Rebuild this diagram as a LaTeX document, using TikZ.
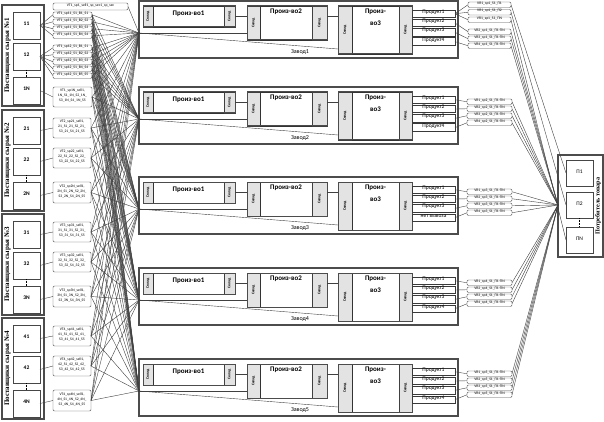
\documentclass[tikz,border=0pt]{standalone}
\usepackage{fontspec}
\setmainfont{Carlito}
\newfontfamily\serifb{Liberation Serif}
\usetikzlibrary{fit}
\newcommand\bx[7]{\node[#6, fit={({#2},{#3})({#4},{#5})}, inner sep=0pt, outer sep=0pt] (#1) {#7};}
\begin{document}
\begin{tikzpicture}[x=1pt,y=-1pt,
  grp/.style={draw=gray!60!black, line width=1.2pt},
  sup/.style={draw=gray!55!black, line width=0.9pt, fill=white, font=\fontsize{5.5}{6}\selectfont\bfseries},
  lbl/.style={draw=gray!65!black, line width=0.45pt, rounded corners=1.2pt, fill=white, font=\fontsize{3.7}{5}\selectfont, align=center},
  zav/.style={draw=gray!60!black, line width=1.2pt},
  frm/.style={draw=gray!60!black, line width=1pt},
  sklad/.style={draw=gray!50!black, line width=0.5pt, fill=gray!22},
  core/.style={draw=black!80, line width=0.8pt, fill=white},
  prod/.style={draw=gray!45!black, line width=0.8pt, fill=white, font=\fontsize{5.5}{6}\selectfont},
  conn/.style={line width=0.4pt, draw=black!75},
  vt/.style={rotate=90, font=\serifb\bfseries\fontsize{7}{8}\selectfont, inner sep=0pt},
  skt/.style={rotate=90, font=\fontsize{3.8}{4}\selectfont\bfseries, inner sep=0pt},
  ptxt/.style={font=\fontsize{7}{12}\selectfont\bfseries, align=center, inner sep=1pt},
]
\fill[white] (0,0) rectangle (604,422);
\useasboundingbox (0,0) rectangle (604,422);

% ---------------- suppliers ----------------
\foreach \k/\g in {1/5,2/110,3/214,4/318}{
  \bx{g\k}{2}{\g}{44}{\g+101}{grp}{}
  \node[vt] (gl\k) at (7.5,\g+50.5) {Поставщики сырья №\k};
  \bx{s\k-1}{13}{\g+7}{40}{\g+34}{sup}{\k1}
  \bx{s\k-2}{13}{\g+38}{40}{\g+65}{sup}{\k2}
  \bx{s\k-n}{13}{\g+72}{40}{\g+99}{sup}{\k N}
  \draw[densely dotted, line width=0.6pt] (s\k-2.south) -- (s\k-n.north);
}
\foreach \k/\g in {2/110,3/214,4/318}{
  \bx{l\k-1}{53}{\g+8}{91}{\g+28}{lbl}{VT\k\_sp\k1\_sell1,\\\k1\_S1\_\k1\_S2\_\k1\_\\S3\_\k1\_S4\_\k1\_S5}
  \bx{l\k-2}{53}{\g+38}{91}{\g+58}{lbl}{VT\k\_sp\k2\_sell1,\\\k2\_S1\_\k2\_S2\_\k2\_\\S3\_\k2\_S4\_\k2\_S5}
  \bx{l\k-3}{53}{\g+72}{91}{\g+93}{lbl}{VT\k\_sp\k N\_sell1,\\\k N\_S1\_\k N\_S2\_\k N\_\\S3\_\k N\_S4\_\k N\_S5}
  \draw[conn] (s\k-1.east) -- (l\k-1.west);
  \draw[conn] (s\k-2.east) -- (l\k-2.west);
  \draw[conn] (s\k-n.east) -- (l\k-3.west);
}
\bx{l1-0}{53}{3}{128}{10}{lbl}{VT1\_sp1\_sell1\_sp\_sec1\_sp\_sec}
\foreach \i/\y in {1/12,2/19,3/26,4/33}{
  \bx{l1-a\i}{53}{\y}{92}{\y+5.5}{lbl}{VT1\_sp11\_S1\_B\i\_S\i}
  \draw[conn] (s1-1.east) -- (l1-a\i.west);
}
\foreach \i/\y in {1/45,2/52,3/59,4/66,5/73}{
  \bx{l1-b\i}{53}{\y}{92}{\y+5.5}{lbl}{VT1\_sp12\_S1\_B\i\_S\i}
  \draw[conn] (s1-2.east) -- (l1-b\i.west);
}
\bx{l1-c}{53}{87}{92}{107}{lbl}{VT1\_sp1N\_sell1,\\1N\_S1\_1N\_S2\_1N\_\\S3\_1N\_S4\_1N\_S5}
\draw[conn] (s1-n.east) -- (l1-c.west);

% ---------------- plants ----------------
\foreach \z/\T in {1/1,2/87,3/177,4/268,5/359}{
  \bx{z\z}{139}{\T}{458}{\T+57}{zav}{}
  \node[font=\fontsize{6}{7}\selectfont, inner sep=0pt] (zl\z) at (300,\T+51) {Завод\z};
  \coordinate (c\z) at (139,\T+32);
  \coordinate (q\z) at (338,\T+48);
  % production 1
  \bx{p\z-1l}{143}{\T+5}{153}{\T+26}{sklad}{}
  \bx{p\z-1c}{153}{\T+5}{224}{\T+26}{core,ptxt}{Произ-во1}
  \bx{p\z-1r}{224}{\T+5}{235}{\T+26}{sklad}{}
  \bx{p\z-1}{143}{\T+5}{235}{\T+26}{frm}{}
  % production 2
  \bx{p\z-2l}{247}{\T+5}{260}{\T+39}{sklad}{}
  \bx{p\z-2c}{260}{\T+5}{312}{\T+39}{core}{}
  \bx{p\z-2r}{312}{\T+5}{327}{\T+39}{sklad}{}
  \bx{p\z-2}{247}{\T+5}{327}{\T+39}{frm}{}
  \node[ptxt, anchor=north] (p\z-2t) at ([yshift=-2pt]p\z-2c.north) {Произ-во2};
  % production 3
  \bx{p\z-3l}{338}{\T+5}{352}{\T+53}{sklad}{}
  \bx{p\z-3c}{352}{\T+5}{399}{\T+53}{core}{}
  \bx{p\z-3r}{399}{\T+5}{412}{\T+53}{sklad}{}
  \bx{p\z-3}{338}{\T+5}{412}{\T+53}{frm}{}
  \node[ptxt, anchor=north] (p\z-3t) at ([yshift=-2pt]p\z-3c.north) {Произ-\\во3};
  \foreach \s in {1l,1r,2l,2r,3l,3r}{
    \node[skt] (p\z-\s t) at (p\z-\s) {Склад};
  }
  % products
  \foreach \i in {1,2,3}{
    \bx{pr\z-\i}{412}{\T+9+9.3*(\i-1)}{455}{\T+16.5+9.3*(\i-1)}{prod}{Продукт\i}
  }
  \bx{pr\z-4}{412}{\T+36.9}{455}{\T+44.4}{prod}{\ifnum\z=3 нет вывоза\else Продукт4\fi}
  % internal links
  \draw[conn] (p\z-1.east) -- (p\z-1.east -| p\z-2.west);
  \draw[conn] (p\z-2.east |- p\z-1.east) -- (p\z-3.west |- p\z-1.east);
  \draw[conn] (c\z) -- (c\z -| p\z-2.west);
  \draw[conn] (c\z) -- (q\z);
}

% ---------------- consumers ----------------
\bx{cg}{558}{155}{603}{257}{grp}{}
\bx{pc1}{566}{160}{593}{186}{sup}{\mdseries П1}
\bx{pc2}{566}{192}{593}{218}{sup}{\mdseries П2}
\bx{pcn}{566}{227}{593}{253}{sup}{\mdseries ПN}
\draw[densely dotted, line width=0.6pt] (pc2.south) -- (pcn.north);
\node[vt, font=\serifb\bfseries\fontsize{6.2}{7}\selectfont] (cgl) at (598,206) {Потребитель товара};
\coordinate (cR) at (558,205);

% right labels plant 1
\foreach \i/\y/\t in {1/2/VR1\_sp1\_S1\_П1,2/9.5/VR1\_sp1\_S1\_П2,3/17/VR1\_sp1\_S1\_ПN,4/29/VR2\_sp1\_S1\_П1-ПN,5/36/VR3\_sp1\_S1\_П1-ПN,6/43/VR4\_sp1\_S1\_П1-ПN}{
  \bx{r1-\i}{468}{\y}{511}{\y+5.5}{lbl}{\t}
}
\draw[conn] (pr1-1.east) -- (r1-1.west);
\draw[conn] (pr1-1.east) -- (r1-2.west);
\draw[conn] (pr1-1.east) -- (r1-3.west);
\draw[conn] (pr1-2.east) -- (r1-4.west);
\draw[conn] (pr1-3.east) -- (r1-5.west);
\draw[conn] (pr1-4.east) -- (r1-6.west);
\draw[conn] (r1-1.east) -- (pc1.west);
\draw[conn] (r1-2.east) -- (pc2.west);
\draw[conn] (r1-3.east) -- (pcn.west);
\foreach \i in {4,5,6}{ \draw[conn] (r1-\i.east) -- (cR); }

% right labels plants 2-5
\foreach \z/\T in {2/87,3/177,4/268,5/359}{
  \foreach \i in {1,...,4}{
    \bx{r\z-\i}{467}{\T+12+7*(\i-1)}{512}{\T+17.5+7*(\i-1)}{lbl}{VR\i\_sp\z\_S1\_П1-ПN}
    \draw[conn] (pr\z-\i.east) -- (r\z-\i.west);
    \draw[conn] (r\z-\i.east) -- (cR);
  }
}

% ---------------- supply fan ----------------
\draw[conn] (l1-0.east) -- (c1);
\foreach \n in {l1-a1,l1-a2,l1-a3,l1-a4,l1-b1,l1-b2,l1-b3,l1-b4,l1-b5,l1-c,l2-1,l2-2,l2-3,l3-1,l3-2,l3-3,l4-1,l4-2,l4-3}{
  \foreach \z in {1,...,5}{
    \draw[conn] (\n.east) -- (c\z);
  }
}
\end{tikzpicture}
\end{document}
